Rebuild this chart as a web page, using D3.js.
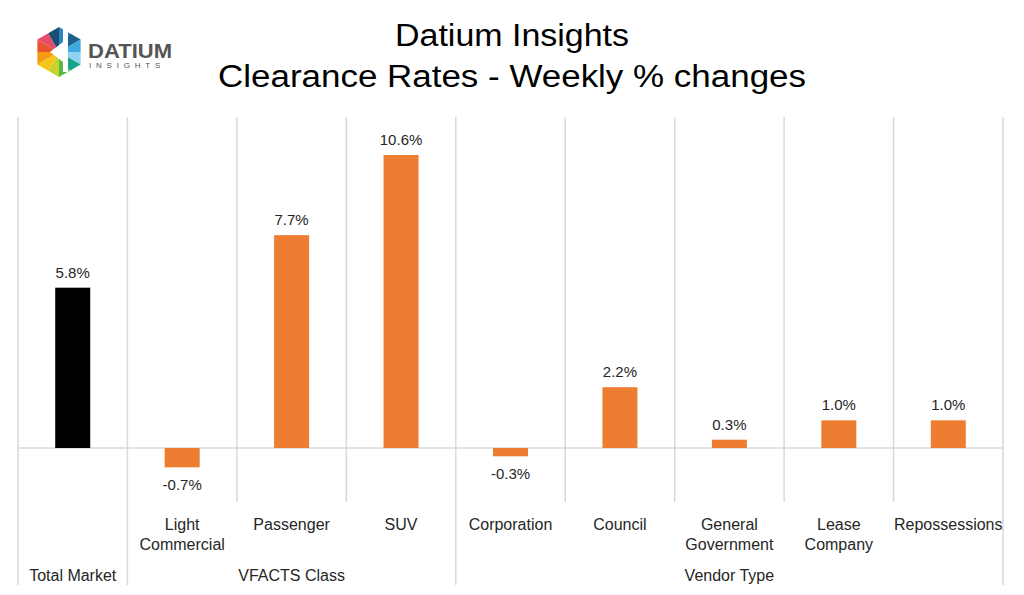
<!DOCTYPE html>
<html><head><meta charset="utf-8">
<script src="https://cdn.jsdelivr.net/npm/d3@7"></script>
<style>body{margin:0;background:#fff}text{font-family:"Liberation Sans",Lato,sans-serif}</style>
</head><body><svg id="c" width="1024" height="595"></svg>
<script>
const categories=["Total Market","Light Commercial","Passenger","SUV","Corporation","Council","General Government","Lease Company","Repossessions"];
const catLabels=[[""],["Light","Commercial"],["Passenger"],["SUV"],["Corporation"],["Council"],["General","Government"],["Lease","Company"],["Repossessions"]];
const values=[5.8,-0.7,7.7,10.6,-0.3,2.2,0.3,1.0,1.0];
const groups=[{name:"Total Market",start:0,n:1},{name:"VFACTS Class",start:1,n:3},{name:"Vendor Type",start:4,n:5}];
const colors=values.map((v,i)=>i===0?"#000000":"#ED7D31");

const svg=d3.select("#c");
const L=18,R=1003,T=117,B=502,G=585;
const x=d3.scaleBand().domain(d3.range(categories.length)).range([L,R]).paddingInner(0).paddingOuter(0);
const y=d3.scaleLinear().domain([0,10.6]).range([448,155]);
const grid="#d9d9d9";
for(let i=0;i<=categories.length;i++){
  const xx=i===categories.length?R:x(i);
  const isGroup=groups.some(g=>g.start===i)||i===categories.length;
  svg.append("line").attr("x1",xx).attr("x2",xx).attr("y1",T).attr("y2",isGroup?G:B).attr("stroke",grid).attr("stroke-width",1.5);
}
svg.append("line").attr("x1",L).attr("x2",R).attr("y1",y(0)).attr("y2",y(0)).attr("stroke",grid).attr("stroke-width",1.5);
const bw=35;
svg.selectAll("rect.b").data(values).join("rect")
 .attr("x",(d,i)=>x(i)+x.bandwidth()/2-bw/2).attr("width",bw)
 .attr("y",d=>y(Math.max(0,d))).attr("height",d=>Math.abs(y(d)-y(0)))
 .attr("fill",(d,i)=>colors[i]);
svg.selectAll("text.v").data(values).join("text")
 .attr("x",(d,i)=>x(i)+x.bandwidth()/2).attr("y",d=>d>=0?y(d)-10:y(d)+23)
 .attr("text-anchor","middle").attr("font-size",15).attr("fill","#262626")
 .text(d=>d.toFixed(1)+"%");
catLabels.forEach((ls,i)=>ls.forEach((l,j)=>svg.append("text").attr("x",x(i)+x.bandwidth()/2).attr("y",530+j*20)
 .attr("text-anchor","middle").attr("font-size",16).attr("fill","#262626").text(l)));
groups.forEach(g=>svg.append("text").attr("x",(x(g.start)+(x(g.start+g.n-1)+x.bandwidth()))/2).attr("y",581)
 .attr("text-anchor","middle").attr("font-size",16).attr("fill","#262626").text(g.name));
svg.append("text").attr("x",512).attr("y",46).attr("text-anchor","middle").attr("font-size",31).attr("fill","#000")
 .attr("textLength",234).attr("lengthAdjust","spacingAndGlyphs").text("Datium Insights");
svg.append("text").attr("x",512).attr("y",87).attr("text-anchor","middle").attr("font-size",31).attr("fill","#000")
 .attr("textLength",588).attr("lengthAdjust","spacingAndGlyphs").text("Clearance Rates - Weekly % changes");
// logo
const cx=59,cy=52,r=25;
const hexCols=["#2E86C1","#1F5F8B","#3FA9E0","#8FD3F0","#17A589","#58B947","#C7D32B","#F5C518","#F39C12","#E8542F","#E74C6B","#1B4F72"];
for(let k=0;k<6;k++){
  const a1=-Math.PI/2+k*Math.PI/3,a2=a1+Math.PI/3;
  const p1=[cx+r*Math.cos(a1),cy+r*Math.sin(a1)],p2=[cx+r*Math.cos(a2),cy+r*Math.sin(a2)];
  const m=[(p1[0]+p2[0])/2,(p1[1]+p2[1])/2];
  svg.append("path").attr("d",`M${cx},${cy}L${p1}L${m}Z`).attr("fill",hexCols[(2*k)%12]);
  svg.append("path").attr("d",`M${cx},${cy}L${m}L${p2}Z`).attr("fill",hexCols[(2*k+1)%12]);
}
svg.append("path").attr("d",`M${cx-9},${cy}L${cx+4},${cy-10}L${cx+4},${cy+10}Z`).attr("fill","#fff");
svg.append("rect").attr("x",cx+4).attr("y",cy-25).attr("width",5).attr("height",45).attr("fill","#fff");
svg.append("text").attr("x",88).attr("y",58).attr("font-size",20).attr("font-weight","bold").attr("fill","#555")
 .attr("textLength",84).attr("lengthAdjust","spacingAndGlyphs").text("DATIUM");
svg.append("text").attr("x",89).attr("y",68).attr("font-size",8).attr("fill","#555").attr("letter-spacing",4.8).text("INSIGHTS");
</script></body></html>
